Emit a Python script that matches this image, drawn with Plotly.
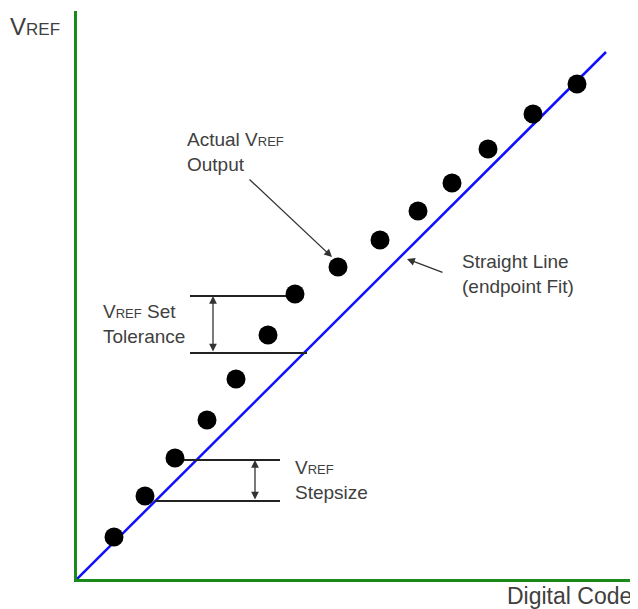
import plotly.graph_objects as go

# measured output levels (arbitrary units, origin at the axes corner)
codes = [37, 68, 98, 130, 159, 191, 218, 261, 303, 341, 375, 411, 456, 500]
vref_out = [42, 83, 121, 159, 200, 244, 285, 312, 339, 368, 396, 430, 465, 495]

# endpoint fit line
fit_x = [0, 529]
fit_y = [0, 527]

# bracket levels
tol_levels = [283, 226]
tol_spans = [(113, 216), (113, 230)]
step_levels = [119, 78]
step_spans = [(98, 203), (78, 203)]

FONT = "Liberation Sans, Arial, sans-serif"
TXT = "#404040"
GREEN = "#1a8a1a"
SC = "<span style='font-size:13px'>REF</span>"

fig = go.Figure()

fig.add_trace(go.Scatter(x=fit_x, y=fit_y, mode="lines",
                         line=dict(color="#1010ff", width=2.5),
                         hoverinfo="skip", showlegend=False))

# bracket lines
for lvl, (a, b) in zip(tol_levels + step_levels, tol_spans + step_spans):
    fig.add_trace(go.Scatter(x=[a, b], y=[lvl, lvl], mode="lines",
                             line=dict(color="#222222", width=2),
                             hoverinfo="skip", showlegend=False))

fig.add_trace(go.Scatter(x=codes, y=vref_out, mode="markers",
                         marker=dict(color="black", size=19),
                         showlegend=False))

ann = []


def darrow(x, y0, y1):
    # double-headed arrow between two levels
    ann.append(dict(x=x, y=y1, ax=x, ay=y0, xref="x", yref="y", axref="x", ayref="y",
                    text="", showarrow=True, arrowhead=2, startarrowhead=2,
                    arrowside="end+start", arrowsize=1.2, arrowwidth=1.3,
                    arrowcolor="#333333", standoff=0, startstandoff=0))


darrow(136, tol_levels[1], tol_levels[0])
darrow(178, step_levels[1], step_levels[0])

# pointer arrows
ann.append(dict(x=255, y=322, ax=171, ay=401, xref="x", yref="y", axref="x", ayref="y",
                text="", showarrow=True, arrowhead=2, arrowsize=1.2, arrowwidth=1.3,
                arrowcolor="#333333"))
ann.append(dict(x=330, y=320, ax=367, ay=306, xref="x", yref="y", axref="x", ayref="y",
                text="", showarrow=True, arrowhead=2, arrowsize=1.2, arrowwidth=1.3,
                arrowcolor="#333333"))

labels = [
    (24, 255, f"V{SC} Set<br>Tolerance"),
    (108, 427, f"Actual V{SC}<br>Output"),
    (383, 305, "Straight Line<br>(endpoint Fit)"),
    (216, 99, f"V{SC}<br>Stepsize"),
]
for x, y, t in labels:
    ann.append(dict(x=x, y=y, xref="x", yref="y", text=t, showarrow=False,
                    xanchor="left", yanchor="middle", align="left",
                    font=dict(family=FONT, size=19, color=TXT)))

# axis titles (paper coords so they are not hidden outside the ranges)
ann.append(dict(x=-0.123, y=0.972, xref="paper", yref="paper", showarrow=False,
                text="V<span style='font-size:17px'>REF</span>",
                xanchor="left", yanchor="middle",
                font=dict(family=FONT, size=24, color=TXT)))
ann.append(dict(x=0.993, y=-0.030, xref="paper", yref="paper", showarrow=False,
                text="Digital Code", xanchor="right", yanchor="middle",
                font=dict(family=FONT, size=23, color=TXT)))

# page body adds an 8px margin, so the figure is sized to fit the window
fig.update_layout(
    width=630, height=601,
    margin=dict(l=69, r=0, t=3, b=30),
    paper_bgcolor="white", plot_bgcolor="white",
    annotations=ann,
    # let the horizontal axis run on to the right edge of the page
    shapes=[dict(type="line", xref="paper", yref="paper", x0=0.95, x1=1.05,
                 y0=-0.0027, y1=-0.0027, line=dict(color=GREEN, width=3))],
    xaxis=dict(range=[0, 561], showgrid=False, zeroline=False, showticklabels=False,
               ticks="", showline=True, linecolor=GREEN, linewidth=3),
    yaxis=dict(range=[0, 568], showgrid=False, zeroline=False, showticklabels=False,
               ticks="", showline=True, linecolor=GREEN, linewidth=3),
)

fig.write_html("out.html")
